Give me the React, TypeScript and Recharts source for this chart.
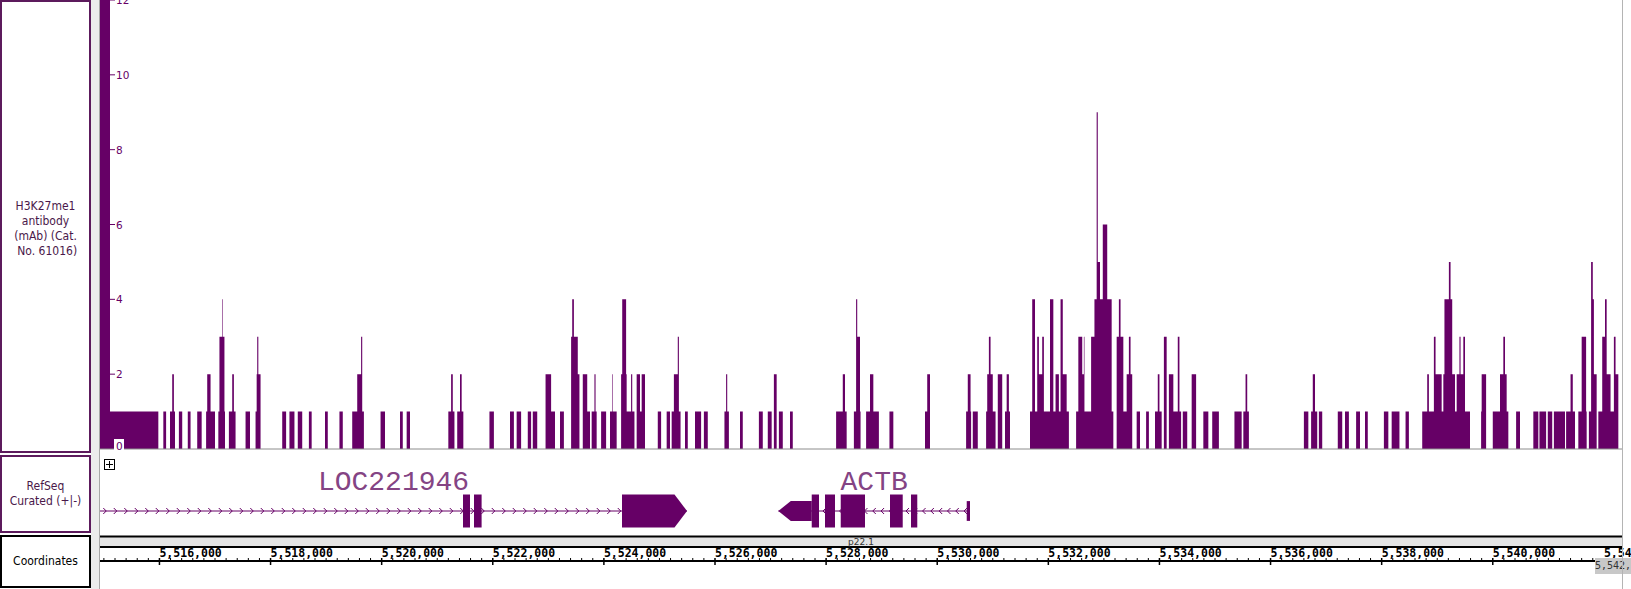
import {
  Area,
  AreaChart,
  ComposedChart,
  Line,
  ReferenceArea,
  ReferenceLine,
  XAxis,
  YAxis,
} from "recharts";

const PURPLE = "#660066";
const BORDER = "#5c1a5c";

// visible window, chr7
const viewStart = 5514930;
const viewEnd = 5542326;

const yTicks = [0, 2, 4, 6, 8, 10, 12];

const rulerMajor = [
  5516000, 5518000, 5520000, 5522000, 5524000, 5526000, 5528000,
  5530000, 5532000, 5534000, 5536000, 5538000, 5540000, 5542000,
];

// coverage: [start, end, value]
const coverage: [number, number, number][] = [
  [5514930, 5515110, 13], [5515110, 5515980, 1],
  [5516070, 5516120, 1],
  [5516190, 5516230, 1], [5516230, 5516260, 2], [5516260, 5516280, 1],
  [5516350, 5516410, 1],
  [5516510, 5516560, 1],
  [5516680, 5516760, 1],
  [5516840, 5516860, 1], [5516860, 5516920, 2], [5516920, 5517000, 1],
  [5517060, 5517080, 1], [5517080, 5517130, 3], [5517130, 5517140, 4], [5517140, 5517170, 3], [5517170, 5517180, 1],
  [5517250, 5517310, 1], [5517310, 5517340, 2], [5517340, 5517370, 1],
  [5517550, 5517630, 1],
  [5517730, 5517750, 1], [5517750, 5517760, 2], [5517760, 5517780, 3], [5517780, 5517820, 2],
  [5518210, 5518280, 1],
  [5518340, 5518430, 1],
  [5518490, 5518570, 1],
  [5518690, 5518740, 1],
  [5518980, 5519030, 1],
  [5519240, 5519300, 1],
  [5519470, 5519560, 1], [5519560, 5519630, 2], [5519630, 5519650, 3], [5519650, 5519680, 1],
  [5519980, 5520060, 1],
  [5520330, 5520380, 1],
  [5520450, 5520510, 1],
  [5521200, 5521250, 1], [5521250, 5521280, 2], [5521280, 5521310, 1],
  [5521360, 5521410, 1], [5521410, 5521440, 2], [5521440, 5521470, 1],
  [5521940, 5522020, 1],
  [5522310, 5522380, 1],
  [5522430, 5522510, 1],
  [5522630, 5522690, 1],
  [5522720, 5522800, 1],
  [5522950, 5523050, 2], [5523050, 5523120, 1],
  [5523210, 5523280, 1],
  [5523410, 5523430, 3], [5523430, 5523460, 4], [5523460, 5523530, 3], [5523530, 5523560, 2],
  [5523620, 5523700, 2], [5523700, 5523750, 1],
  [5523780, 5523830, 1], [5523830, 5523850, 2], [5523850, 5523870, 1],
  [5523950, 5524040, 1],
  [5524110, 5524150, 1], [5524150, 5524160, 2], [5524160, 5524230, 1],
  [5524310, 5524330, 2], [5524330, 5524400, 4], [5524400, 5524410, 2], [5524410, 5524490, 1],
  [5524490, 5524510, 2], [5524510, 5524550, 1],
  [5524590, 5524650, 2], [5524650, 5524680, 1], [5524680, 5524740, 2],
  [5524970, 5525030, 1],
  [5525130, 5525190, 1],
  [5525220, 5525260, 1], [5525260, 5525330, 2], [5525330, 5525350, 3], [5525350, 5525380, 1],
  [5525460, 5525510, 1],
  [5525640, 5525750, 1],
  [5525800, 5525870, 1],
  [5526170, 5526200, 1], [5526200, 5526220, 2], [5526220, 5526250, 1],
  [5526450, 5526500, 1],
  [5526790, 5526860, 1],
  [5526950, 5527020, 1],
  [5527060, 5527110, 2],
  [5527150, 5527220, 1],
  [5527350, 5527400, 1],
  [5528180, 5528300, 1], [5528300, 5528340, 2], [5528340, 5528370, 1],
  [5528500, 5528540, 1], [5528540, 5528560, 4], [5528560, 5528610, 3], [5528610, 5528620, 1],
  [5528720, 5528790, 1], [5528790, 5528850, 2], [5528850, 5528950, 1],
  [5529140, 5529210, 1],
  [5529780, 5529820, 1], [5529820, 5529870, 2],
  [5530520, 5530550, 1], [5530550, 5530600, 2], [5530600, 5530610, 1],
  [5530640, 5530730, 1],
  [5530880, 5530900, 1], [5530900, 5530930, 2], [5530930, 5530960, 3], [5530960, 5531000, 2], [5531000, 5531050, 1],
  [5531090, 5531170, 2],
  [5531220, 5531250, 1], [5531250, 5531290, 2], [5531290, 5531310, 1],
  [5531670, 5531710, 1], [5531710, 5531760, 4], [5531760, 5531800, 1], [5531800, 5531830, 3],
  [5531830, 5531890, 2], [5531890, 5531920, 3], [5531920, 5532030, 1], [5532030, 5532090, 4],
  [5532090, 5532130, 1], [5532130, 5532190, 2], [5532190, 5532220, 1], [5532220, 5532260, 4],
  [5532260, 5532330, 2], [5532330, 5532370, 1],
  [5532500, 5532540, 1], [5532540, 5532610, 3], [5532610, 5532640, 2], [5532640, 5532650, 3],
  [5532650, 5532770, 1], [5532770, 5532830, 3], [5532830, 5532870, 4], [5532870, 5532890, 9],
  [5532890, 5532930, 5], [5532930, 5532980, 4], [5532980, 5533060, 6], [5533060, 5533140, 4],
  [5533140, 5533170, 1],
  [5533230, 5533270, 3], [5533270, 5533300, 4], [5533300, 5533350, 3], [5533350, 5533410, 1],
  [5533410, 5533450, 2], [5533450, 5533480, 3], [5533480, 5533510, 2],
  [5533590, 5533650, 1],
  [5533760, 5533810, 1],
  [5533920, 5533970, 1], [5533970, 5534000, 2], [5534000, 5534040, 1],
  [5534080, 5534130, 3],
  [5534170, 5534250, 2], [5534250, 5534330, 1], [5534330, 5534360, 3], [5534360, 5534390, 1],
  [5534420, 5534500, 1],
  [5534580, 5534660, 2],
  [5534790, 5534880, 1],
  [5534950, 5535070, 1],
  [5535350, 5535480, 1],
  [5535510, 5535550, 1], [5535550, 5535580, 2], [5535580, 5535610, 1],
  [5536600, 5536680, 1],
  [5536730, 5536760, 1], [5536760, 5536800, 2], [5536800, 5536840, 1],
  [5536870, 5536930, 1],
  [5537210, 5537290, 1],
  [5537340, 5537410, 1],
  [5537540, 5537610, 1],
  [5537700, 5537750, 1],
  [5538040, 5538120, 1],
  [5538180, 5538320, 1],
  [5538430, 5538490, 1],
  [5538730, 5538820, 1], [5538820, 5538850, 2], [5538850, 5538940, 1], [5538940, 5538970, 3],
  [5538970, 5539080, 2], [5539080, 5539110, 1], [5539110, 5539130, 2], [5539130, 5539210, 4],
  [5539210, 5539240, 5], [5539240, 5539270, 4], [5539270, 5539320, 2], [5539320, 5539350, 1],
  [5539350, 5539400, 2], [5539400, 5539420, 3], [5539420, 5539470, 2], [5539470, 5539500, 3],
  [5539500, 5539590, 1],
  [5539790, 5539800, 1], [5539800, 5539880, 2],
  [5540000, 5540130, 1], [5540130, 5540190, 2], [5540190, 5540220, 3], [5540220, 5540250, 2], [5540250, 5540280, 1],
  [5540420, 5540490, 1],
  [5540730, 5540820, 1],
  [5540840, 5540960, 1],
  [5540990, 5541070, 1],
  [5541100, 5541300, 1],
  [5541320, 5541400, 1], [5541400, 5541440, 2], [5541440, 5541480, 1],
  [5541540, 5541600, 1], [5541600, 5541680, 3], [5541680, 5541690, 1],
  [5541730, 5541770, 1], [5541770, 5541800, 5], [5541800, 5541820, 4], [5541820, 5541870, 2],
  [5541900, 5541970, 1], [5541970, 5542020, 3], [5542020, 5542050, 4], [5542050, 5542120, 2],
  [5542120, 5542180, 1], [5542180, 5542210, 3], [5542210, 5542260, 2],
];

type Block = [number, number, boolean]; // start, end, coding
const locBlocks: Block[] = [
  [5521464, 5521590, true],
  [5521662, 5521799, true],
  [5524326, 5525496, true],
];
const actbBlocks: Block[] = [
  [5527140, 5527741, false],
  [5527741, 5527872, true],
  [5527980, 5528160, true],
  [5528263, 5528700, true],
  [5529150, 5529379, true],
  [5529528, 5529641, true],
  [5530531, 5530590, false],
];

const genes = [
  { name: "LOC221946", strand: 1, start: 5513500, end: 5525496, blocks: locBlocks, gap: 10.5 },
  { name: "ACTB", strand: -1, start: 5527140, end: 5530590, blocks: actbBlocks, gap: 8.3 },
];

const cytoband = { name: "p22.1", start: 5300001, end: 7200000 };

const clamp = (v: number) => Math.min(viewEnd, Math.max(viewStart, v));

// step points for the coverage histogram
const covPoints: { pos: number; v: number }[] = [];
coverage.forEach(([s, e, v], i) => {
  covPoints.push({ pos: s, v });
  const next = coverage[i + 1];
  if (!next || next[0] !== e) covPoints.push({ pos: e, v: 0 });
});

const rulerTicks = [rulerMajor[0] - 2000, ...rulerMajor].flatMap((m) =>
  [0, 1, 2, 3, 4, 5, 6, 7, 8, 9].map((k) => m + k * 200)
);
const majorSet = new Set(rulerMajor);

function YTick(props: any) {
  const { x, y, payload } = props;
  const zero = payload.value === 0;
  const ty = zero ? y - 3 : y;
  return (
    <g>
      {zero && <rect x={x + 14} y={ty - 7} width={10} height={13} fill="#fff" />}
      {!zero && <line x1={x + 9} x2={x + 15} y1={y} y2={y} stroke={PURPLE} />}
      <text x={x + 16} y={ty + 4} fontSize={10.5} fill={PURPLE} fontFamily="DejaVu Sans" textAnchor="start">
        {payload.value}
      </text>
    </g>
  );
}

function RulerTick(props: any) {
  const { x, y, payload } = props;
  const major = payload.value % 2000 === 0;
  return (
    <g>
      <line x1={x} x2={x} y1={y - 3} y2={major ? y + 4 : y} stroke="#000" strokeWidth={major ? 1.5 : 1} />
      {majorSet.has(payload.value) && (
        <text
          x={x}
          y={y - 4.5}
          fontSize={11.5}
          fontWeight="bold"
          fontFamily="DejaVu Sans Mono"
          fill="#000"
          textAnchor="start"
        >
          {payload.value.toLocaleString("en-US")}
        </text>
      )}
    </g>
  );
}

function Intron(props: any) {
  const { x1, y1, x2, strand, gap } = props;
  const marks: number[] = [];
  for (let m = x1 + gap / 2; m < x2 - 2; m += gap) marks.push(m);
  return (
    <g>
      <line x1={x1} y1={y1} x2={x2} y2={y1} stroke={PURPLE} strokeWidth={1} />
      {marks.map((m) => (
        <polyline
          key={m}
          points={`${m - 2 * strand},${y1 - 3} ${m + strand},${y1} ${m - 2 * strand},${y1 + 3}`}
          fill="none"
          stroke={PURPLE}
          strokeWidth={1}
        />
      ))}
    </g>
  );
}

function Pointed(props: any) {
  const { x, y, width, height, strand } = props;
  const tip = 12.5;
  const pts =
    strand > 0
      ? [[x, y], [x + width - tip, y], [x + width, y + height / 2], [x + width - tip, y + height], [x, y + height]]
      : [[x + width, y], [x + tip, y], [x, y + height / 2], [x + tip, y + height], [x + width, y + height]];
  return <polygon points={pts.map((p) => p.join(",")).join(" ")} fill={PURPLE} />;
}

const panelText: React.CSSProperties = {
  position: "absolute",
  boxSizing: "border-box",
  left: 0,
  width: 91,
  display: "flex",
  alignItems: "center",
  justifyContent: "center",
  textAlign: "center",
  fontFamily: "'DejaVu Sans Condensed', 'DejaVu Sans'",
  fontSize: 12,
  lineHeight: "15px",
  background: "#fff",
};

export default function App() {
  return (
    <div
      style={{
        position: "relative",
        width: 1631,
        height: 589,
        overflow: "hidden",
        background: "#fff",
      }}
    >
      <style>{"body{margin:0}"}</style>

      {/* coverage track */}
      <div style={{ position: "absolute", left: 0, top: 0 }}>
        <AreaChart
          width={1631}
          height={453}
          data={covPoints}
          margin={{ top: 0, right: 9, bottom: 4, left: 80 }}
        >
          <XAxis dataKey="pos" type="number" domain={[viewStart, viewEnd]} allowDataOverflow hide />
          <YAxis
            domain={[0, 12]}
            ticks={yTicks}
            interval={0}
            allowDataOverflow
            width={20}
            tickSize={0}
            tickMargin={0}
            axisLine={false}
            tickLine={false}
            tick={<YTick />}
          />
          <Area
            type="stepAfter"
            dataKey="v"
            fill={PURPLE}
            fillOpacity={1}
            stroke="none"
            isAnimationActive={false}
          />
          <ReferenceLine y={0} stroke="#8c8c8c" ifOverflow="visible" />
        </AreaChart>
      </div>

      {/* gene track */}
      <div style={{ position: "absolute", left: 0, top: 455 }}>
        <ComposedChart
          width={1631}
          height={78}
          data={genes.map((g) => ({ pos: clamp(g.start), y: 0 }))}
          margin={{ top: 34, right: 9, bottom: 0, left: 100 }}
        >
          <XAxis dataKey="pos" type="number" domain={[viewStart, viewEnd]} allowDataOverflow hide />
          <YAxis hide domain={[-1, 1]} allowDataOverflow />
          <Line dataKey="y" stroke="none" dot={false} activeDot={false} isAnimationActive={false} />
          {genes.map((g) => (
            <ReferenceLine
              key={g.name}
              segment={[
                { x: clamp(g.start), y: 0 },
                { x: clamp(g.end), y: 0 },
              ]}
              shape={(p: any) => <Intron {...p} strand={g.strand} gap={g.gap} />}
              label={{
                value: g.name,
                position: "top",
                offset: 21,
                fill: "#844484",
                fontSize: 28,
                fontFamily: "'Liberation Mono', monospace",
              }}
            />
          ))}
          {genes.flatMap((g) =>
            g.blocks.map(([s, e, coding], i) => {
              const h = coding ? 0.75 : 0.45;
              const pointed = g.strand > 0 ? i === g.blocks.length - 1 : i === 0;
              return (
                <ReferenceArea
                  key={g.name + i}
                  x1={s}
                  x2={e}
                  y1={-h}
                  y2={h}
                  fill={PURPLE}
                  fillOpacity={1}
                  stroke="none"
                  shape={pointed ? (p: any) => <Pointed {...p} strand={g.strand} /> : undefined}
                />
              );
            })
          )}
        </ComposedChart>
        {/* expand icon */}
        <div
          style={{
            position: "absolute",
            left: 104,
            top: 4,
            width: 9,
            height: 9,
            border: "1px solid #000",
            background: "#fff",
          }}
        >
          <div style={{ position: "absolute", left: 4, top: 1, width: 1, height: 7, background: "#000" }} />
          <div style={{ position: "absolute", left: 1, top: 4, width: 7, height: 1, background: "#000" }} />
        </div>
      </div>

      {/* coordinates ruler */}
      <div style={{ position: "absolute", left: 0, top: 533 }}>
        <ComposedChart
          width={1631}
          height={56}
          data={rulerMajor.map((p) => ({ pos: p, y: 0 }))}
          margin={{ top: 0, right: 9, bottom: 0, left: 100 }}
        >
          <XAxis
            dataKey="pos"
            type="number"
            domain={[viewStart, viewEnd]}
            allowDataOverflow
            ticks={rulerTicks}
            interval={0}
            height={28}
            tickSize={0}
            tickMargin={0}
            tickLine={false}
            axisLine={{ stroke: "#000", strokeWidth: 2 }}
            tick={<RulerTick />}
          />
          <YAxis hide domain={[0, 28]} allowDataOverflow />
          <Line dataKey="y" stroke="none" dot={false} activeDot={false} isAnimationActive={false} />
          <ReferenceArea
            x1={clamp(cytoband.start)}
            x2={clamp(cytoband.end)}
            y1={14}
            y2={24}
            fill="#e4e4e4"
            fillOpacity={1}
            stroke="none"
            label={{ value: cytoband.name, position: "center", fontSize: 9, fill: "#333", fontFamily: "DejaVu Sans" }}
          />
          <ReferenceLine y={24.5} stroke="#000" strokeWidth={2} />
          <ReferenceLine y={14} stroke="#000" strokeWidth={2} />
        </ComposedChart>
        <div
          style={{
            position: "absolute",
            left: 1595,
            top: 25,
            width: 36,
            height: 16,
            background: "#c8c8c8",
            color: "#333",
            fontFamily: "DejaVu Sans Mono",
            fontSize: 10,
            lineHeight: "16px",
            whiteSpace: "nowrap",
            overflow: "hidden",
          }}
        >
          5,542,
        </div>
      </div>

      {/* right edge line */}
      <div style={{ position: "absolute", left: 1622, top: 0, width: 1, height: 589, background: "#b4b4b4" }} />

      {/* left name panel */}
      <div style={{ position: "absolute", left: 0, top: 0, width: 99, height: 589, background: "#fff" }}>
        <div style={{ position: "absolute", left: 91, top: 0, width: 8, height: 589, background: "#ececec" }} />
        <div style={{ position: "absolute", left: 99, top: 0, width: 1, height: 589, background: "#a8a8a8" }} />
        <div style={{ ...panelText, top: 0, height: 453, border: `2px solid ${BORDER}`, color: "#4a184a", paddingTop: 4 }}>
          <div>
            H3K27me1
            <br />
            antibody
            <br />
            (mAb) (Cat.
            <br />
            &nbsp;No. 61016)
          </div>
        </div>
        <div style={{ ...panelText, top: 455, height: 78, border: `2px solid ${BORDER}`, color: "#4a184a" }}>
          <div>
            RefSeq
            <br />
            Curated (+|-)
          </div>
        </div>
        <div style={{ ...panelText, top: 535, height: 53, border: "2px solid #000", color: "#000" }}>
          Coordinates
        </div>
      </div>
    </div>
  );
}
